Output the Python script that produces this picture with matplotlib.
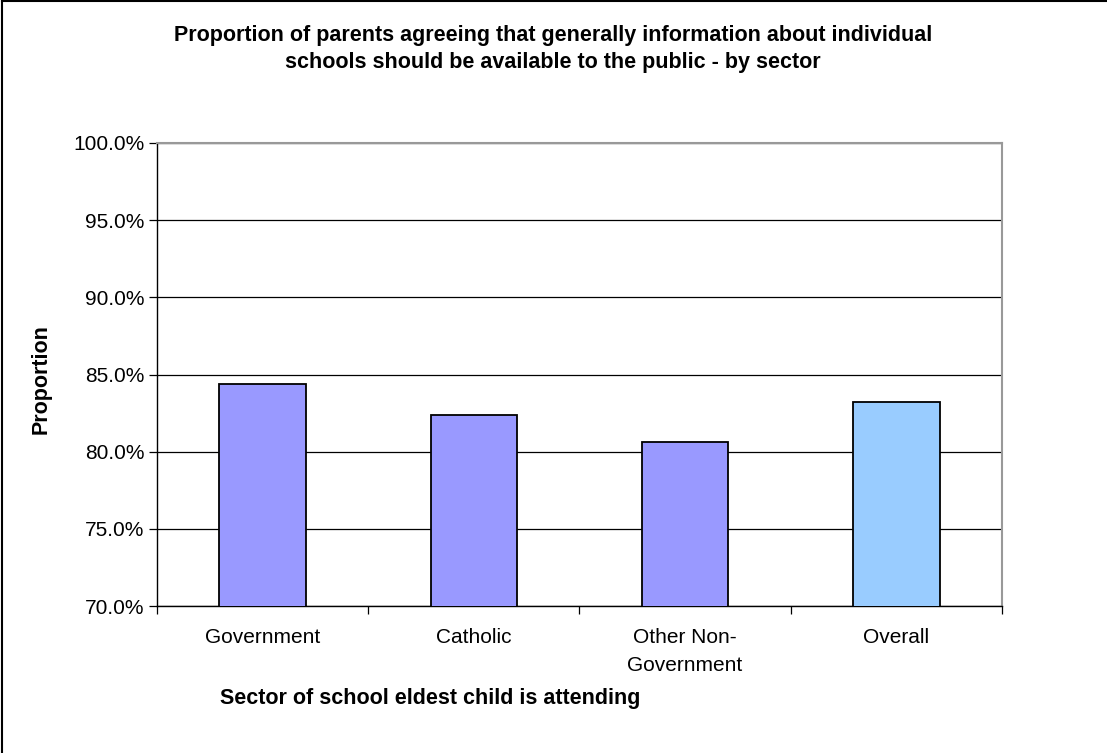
import matplotlib.pyplot as plt
from matplotlib.lines import Line2D
from matplotlib.ticker import FuncFormatter, FixedLocator

plt.rcParams['font.family'] = ['Liberation Sans', 'DejaVu Sans']

# Share of parents agreeing, by sector (percent)
sectors = ['Government', 'Catholic', 'Other Non-\nGovernment', 'Overall']
agree_pct = [84.4, 82.4, 80.6, 83.2]
bar_colors = ['#9999FF', '#9999FF', '#9999FF', '#99CCFF']

fig = plt.figure(figsize=(11.07, 7.53), dpi=100)
ax = fig.add_axes([0.1418, 0.1952, 0.7633, 0.6149])

x = range(len(sectors))
ax.bar(x, agree_pct, width=0.41, color=bar_colors, edgecolor='black',
       linewidth=1.3, zorder=3)

ax.set_xlim(-0.5, len(sectors) - 0.5)
ax.set_ylim(70, 100)
ax.set_yticks([70, 75, 80, 85, 90, 95, 100])
ax.yaxis.set_major_formatter(FuncFormatter(lambda v, p: f'{v:.1f}%'))
ax.yaxis.grid(True, color='black', linewidth=0.9, zorder=0)

# category labels sit between the boundary ticks
ax.set_xticks(list(x))
ax.set_xticklabels(sectors, fontsize=15, linespacing=1.6, va='top')
ax.tick_params(axis='x', length=0, pad=16)
ax.xaxis.set_minor_locator(FixedLocator([i - 0.5 for i in range(len(sectors) + 1)]))
ax.tick_params(axis='x', which='minor', length=6, direction='out', width=0.9)
ax.tick_params(axis='y', labelsize=15, length=6, direction='out', width=0.9, pad=3)

for side in ('top', 'right'):
    ax.spines[side].set_color('#999999')
    ax.spines[side].set_linewidth(1.5)
for side in ('left', 'bottom'):
    ax.spines[side].set_color('black')
    ax.spines[side].set_linewidth(1.0)

fig.text(0.4995, 0.967,
         'Proportion of parents agreeing that generally information about individual\n'
         'schools should be available to the public - by sector',
         ha='center', va='top', fontsize=15.5, fontweight='bold', linespacing=1.4)
fig.text(0.037, 0.496, 'Proportion', rotation=90, ha='center', va='center',
         fontsize=15.5, fontweight='bold')
fig.text(0.199, 0.072, 'Sector of school eldest child is attending',
         ha='left', va='center', fontsize=15.5, fontweight='bold')

# chart frame along left and top edges
fig.add_artist(Line2D([0.0015, 0.0015], [0, 0.9985], color='black', linewidth=1.5,
                      transform=fig.transFigure))
fig.add_artist(Line2D([0.0015, 1], [0.9985, 0.9985], color='black', linewidth=1.5,
                      transform=fig.transFigure))

fig.savefig('out.png', dpi=100)
